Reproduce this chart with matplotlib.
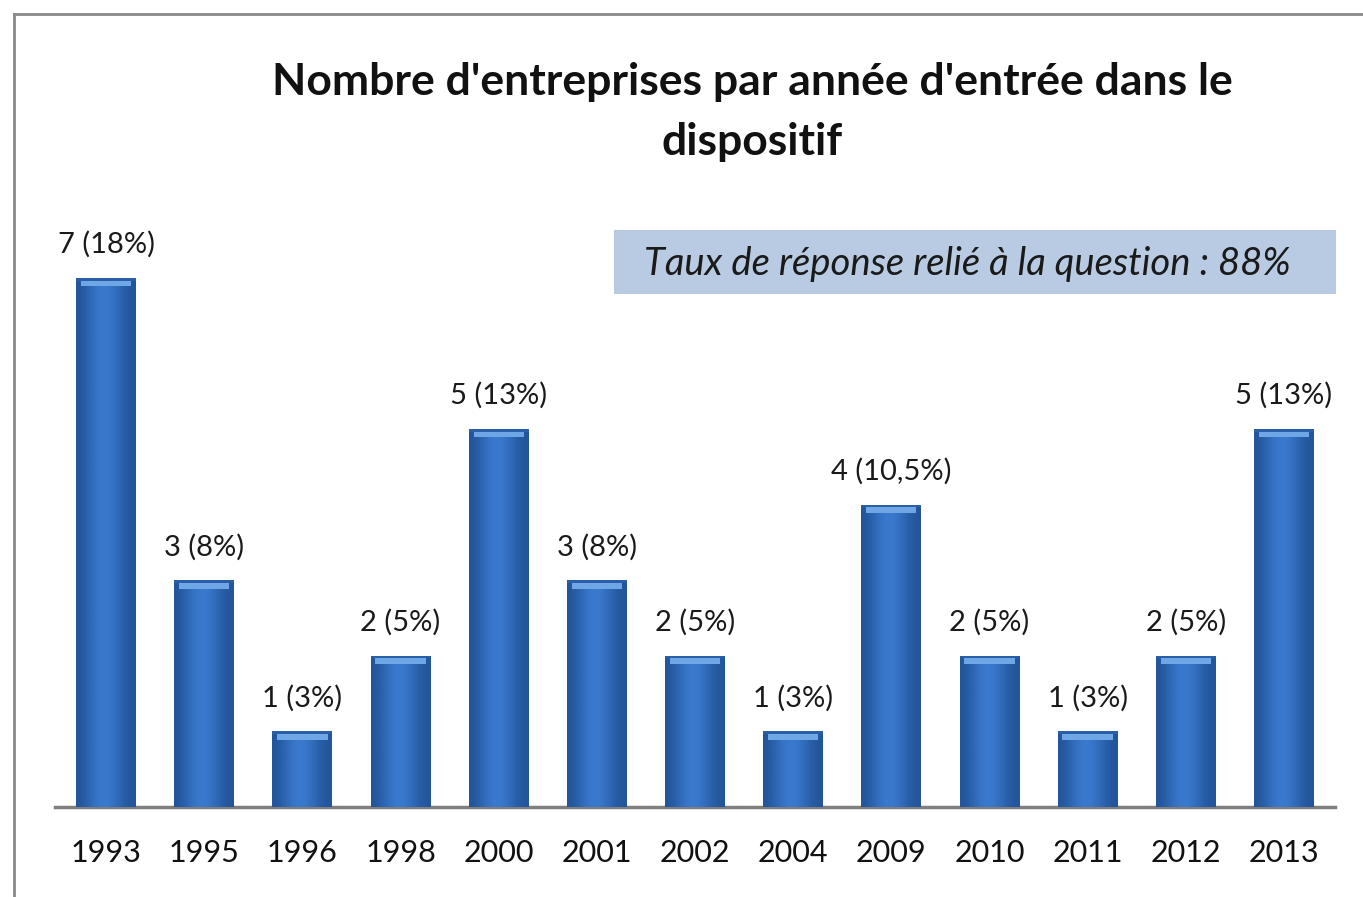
import numpy as np
import matplotlib
matplotlib.use('Agg')
import matplotlib.pyplot as plt
from matplotlib.lines import Line2D
from matplotlib.patches import Rectangle

years = ['1993', '1995', '1996', '1998', '2000', '2001', '2002', '2004',
         '2009', '2010', '2011', '2012', '2013']
counts = [7, 3, 1, 2, 5, 3, 2, 1, 4, 2, 1, 2, 5]
shares = ['18%', '8%', '3%', '5%', '13%', '8%', '5%', '3%', '10,5%', '5%', '3%', '5%', '13%']

title = "Nombre d'entreprises par année d'entrée dans le\ndispositif"
note = "Taux de réponse relié à la question : 88%"

plt.rcParams['font.family'] = ['Lato', 'DejaVu Sans']

fig = plt.figure(figsize=(13.63, 8.97), dpi=100)
ax = fig.add_axes([0.0404, 0.1003, 0.939, 0.6767])

x = np.arange(len(years))
bars = ax.bar(x, counts, width=0.61, color='#2f6cbf', edgecolor='none', zorder=2)

# horizontal gradient inside each bar + light top band
grad = np.array([[0.0, 0.35, 0.75, 1.0, 0.9, 0.6, 0.2, 0.0]])
cmap = matplotlib.colors.LinearSegmentedColormap.from_list('b', ['#23559a', '#3b7bd0'])
for b in bars:
    x0, w, h = b.get_x(), b.get_width(), b.get_height()
    im = ax.imshow(grad, cmap=cmap, aspect='auto', extent=(x0, x0 + w, 0, h),
                   zorder=3, interpolation='bicubic')
    im.set_clip_path(b)
    ax.add_patch(Rectangle((x0 + w * 0.08, h - 0.11), w * 0.84, 0.08,
                           color='#6fa6e6', lw=0, zorder=4))
    ax.add_patch(Rectangle((x0, h - 0.035), w, 0.035, color='#2a5fa8', lw=0, zorder=4))

for i, (c, s) in enumerate(zip(counts, shares)):
    ax.annotate(f'{c} ({s})', (i, c), xytext=(0, 24), textcoords='offset points',
                ha='center', va='center', fontsize=21, color='#1a1a1a')

ax.set_xlim(-0.52, len(years) - 0.48)
ax.set_ylim(0, 8.03)
ax.set_yticks([])
ax.set_xticks(x)
ax.set_xticklabels(years, fontsize=22, color='#111111')
ax.tick_params(axis='x', length=0, pad=23)
for sp in ['top', 'right', 'left']:
    ax.spines[sp].set_visible(False)
ax.spines['bottom'].set_color('#7f7f7f')
ax.spines['bottom'].set_linewidth(2.5)

fig.text(0.552, 1 - 112 / 897, title, ha='center', va='center', fontsize=32,
         fontweight='bold', linespacing=1.58, color='#111111')

fig.patches.append(Rectangle((614 / 1363, 1 - 294 / 897), 722 / 1363, 64 / 897,
                             transform=fig.transFigure, color='#b9cbe3', lw=0))
fig.text(967 / 1363, 1 - 264 / 897, note, ha='center', va='center', fontsize=27.5,
         style='italic', color='#1a1a1a')

# outer frame (top and left edges visible)
fig.add_artist(Line2D([14 / 1363, 1], [1 - 14 / 897, 1 - 14 / 897], color='#8a8a8a', lw=2))
fig.add_artist(Line2D([14 / 1363, 14 / 1363], [0, 1 - 14 / 897], color='#8a8a8a', lw=2))

fig.savefig('out.png', dpi=100)
